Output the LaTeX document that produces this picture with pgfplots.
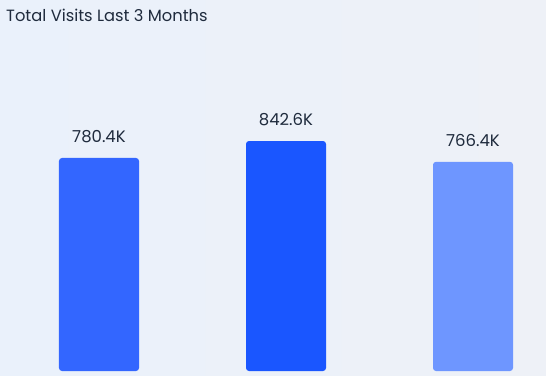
\documentclass[border=0pt]{standalone}
\usepackage{pgfplots}
\pgfplotsset{compat=1.18}
\usepackage{fontspec}
\setmainfont{Poppins}
\definecolor{bgL}{HTML}{EAF1FB}
\definecolor{bgR}{HTML}{EEF1F7}
\definecolor{txt}{HTML}{1F2B3D}
\definecolor{barA}{HTML}{3366FF}
\definecolor{barB}{HTML}{1A56FF}
\definecolor{barC}{HTML}{6E96FF}
\begin{document}
\begin{tikzpicture}[x=1pt,y=1pt]
\shade[left color=bgL,right color=bgR] (0,0) rectangle (546,375);
\node[anchor=west,text=txt,font=\fontsize{16.3}{18}\selectfont,inner sep=0pt] at (6,360) {Total Visits Last 3 Months};
\begin{axis}[
  at={(0,0)},anchor=south west,
  scale only axis, width=546pt, height=375pt,
  xmin=-0.5294, xmax=2.3904,
  ymin=-14.65, ymax=1359.2,
  hide axis, clip=false,
  ybar, bar width=80pt, bar shift=0pt,
  point meta=explicit symbolic,
  nodes near coords,
  every node near coord/.append style={text=txt,font=\fontsize{16.5}{18}\selectfont,yshift=12pt},
]
\addplot[fill=barA,draw=none,rounded corners=3pt] coordinates {(0,780.4) [780.4K]};
\addplot[fill=barB,draw=none,rounded corners=3pt] coordinates {(1,842.6) [842.6K]};
\addplot[fill=barC,draw=none,rounded corners=3pt] coordinates {(2,766.4) [766.4K]};
\end{axis}
\end{tikzpicture}
\end{document}
